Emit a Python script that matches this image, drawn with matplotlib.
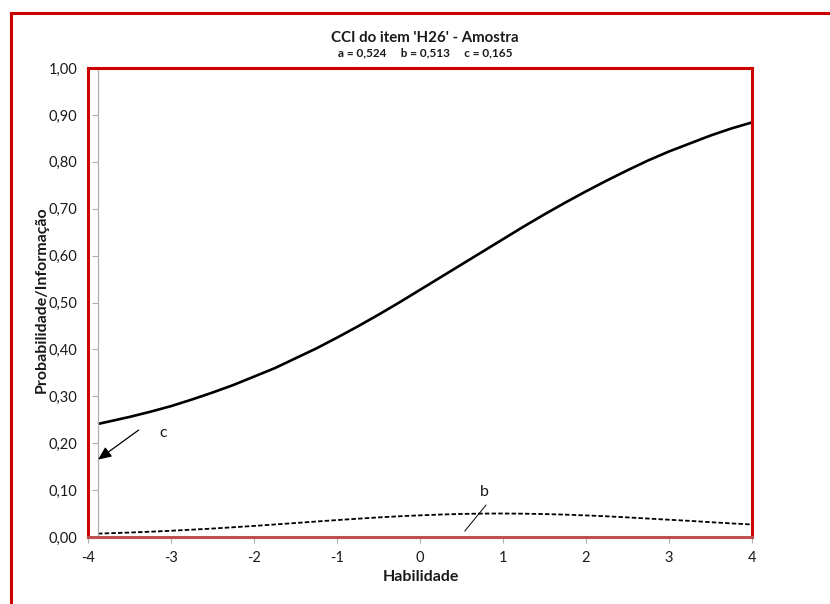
import matplotlib
matplotlib.use("Agg")
import matplotlib.pyplot as plt
from matplotlib.lines import Line2D

plt.rcParams['font.family'] = ['Lato', 'DejaVu Sans']

# Ability grid and curves (3PL item H26)
theta = [-3.88, -3.5, -3.25, -3.0, -2.75, -2.5, -2.25, -2.0, -1.75, -1.5, -1.25,
         -1.0, -0.75, -0.5, -0.25, 0.0, 0.25, 0.5, 0.75, 1.0, 1.25, 1.5, 1.75,
         2.0, 2.25, 2.5, 2.75, 3.0, 3.25, 3.5, 3.75, 4.0]
prob = [0.241, 0.256, 0.267, 0.279, 0.293, 0.308, 0.324, 0.342, 0.360, 0.381, 0.402,
        0.425, 0.449, 0.474, 0.500, 0.527, 0.554, 0.581, 0.608, 0.635, 0.662, 0.688, 0.713,
        0.737, 0.760, 0.782, 0.803, 0.822, 0.839, 0.856, 0.871, 0.884]
info = [0.0072, 0.0095, 0.0113, 0.0133, 0.0156, 0.0180, 0.0208, 0.0236, 0.0267, 0.0298, 0.0330,
        0.0361, 0.0390, 0.0418, 0.0442, 0.0462, 0.0479, 0.0492, 0.0499, 0.0501, 0.0497, 0.0489, 0.0477,
        0.0460, 0.0441, 0.0418, 0.0393, 0.0368, 0.0344, 0.0316, 0.0290, 0.0267]

x_ticks = [-4, -3, -2, -1, 0, 1, 2, 3, 4]
y_ticks = [0.0, 0.1, 0.2, 0.3, 0.4, 0.5, 0.6, 0.7, 0.8, 0.9, 1.0]
y_axis_at = -3.88
c_param = 0.165

fig = plt.figure(figsize=(8.30, 6.04), dpi=100)
ax = fig.add_axes([88 / 830, 1 - 537 / 604, (752 - 88) / 830, (537 - 68) / 604])

ax.plot(theta, prob, color='black', lw=1.9, solid_capstyle='butt')
ln, = ax.plot(theta, info, color='black', lw=1.3)
ln.set_dashes((2.5, 1.2))

ax.set_xlim(-4, 4)
ax.set_ylim(0, 1)
ax.set_xticks(x_ticks)
ax.set_xticklabels([str(v) for v in x_ticks])
ax.set_yticks(y_ticks)
ax.set_yticklabels([f"{v:.2f}".replace('.', ',') for v in y_ticks])

for s in ['top', 'right', 'bottom']:
    ax.spines[s].set_visible(False)
ax.spines['left'].set_position(('data', y_axis_at))
ax.spines['left'].set_color('#b0b0b0')
ax.spines['left'].set_linewidth(0.9)

ax.tick_params(axis='y', direction='out', length=4, width=0.8, color='#b0b0b0',
               pad=11, labelsize=10.5, labelcolor='#1a1a1a')
ax.tick_params(axis='x', direction='out', length=4, width=0.8, color='#b0b0b0',
               pad=6, labelsize=10.5, labelcolor='#1a1a1a')

# red plot-area border
red = '#cc0000'
ax.add_line(Line2D([0, 0], [0, 1], transform=ax.transAxes, color=red, lw=2.2,
                   clip_on=False, zorder=5))
ax.add_line(Line2D([0, 1], [1, 1], transform=ax.transAxes, color=red, lw=2.2,
                   clip_on=False, zorder=5, solid_capstyle='projecting'))
ax.add_line(Line2D([1, 1], [0, 1], transform=ax.transAxes, color=red, lw=2.2,
                   clip_on=False, zorder=5, solid_capstyle='projecting'))
ax.add_line(Line2D([0, 1], [0, 0], transform=ax.transAxes, color='#c0504d', lw=2.2,
                   clip_on=False, zorder=5, solid_capstyle='projecting'))

# outer frame
fig.add_artist(Line2D([11 / 830, 11 / 830], [0, 1 - 13 / 604], color=red, lw=2.2,
                      transform=fig.transFigure))
fig.add_artist(Line2D([11 / 830, 1], [1 - 13 / 604, 1 - 13 / 604], color=red, lw=2.2,
                      transform=fig.transFigure, solid_capstyle='projecting'))

# annotations
ax.annotate('', xy=(y_axis_at, c_param), xytext=(-3.39, 0.228),
            arrowprops=dict(arrowstyle='-|>,head_length=0.8,head_width=0.35',
                            color='black', lw=0.9, shrinkA=0, shrinkB=0))
ax.text(-3.10, 0.222, 'c', fontsize=11.5, ha='center', va='center', color='#1a1a1a')
ax.plot([0.54, 0.795], [0.0128, 0.068], color='black', lw=0.7)
ax.text(0.78, 0.096, 'b', fontsize=11.5, ha='center', va='center', color='#1a1a1a')

fig.text(425 / 830, 1 - 38 / 604, "CCI do item 'H26' - Amostra", ha='center', va='center',
         fontsize=10.8, fontweight='bold', color='#1a1a1a')
fig.text(425 / 830, 1 - 53 / 604, "a = 0,524     b = 0,513     c = 0,165", ha='center',
         va='center', fontsize=8.5, fontweight='bold', color='#1a1a1a')
fig.text(421 / 830, 1 - 577 / 604, 'Habilidade', ha='center', va='center',
         fontsize=11.5, fontweight='bold', color='#1a1a1a')
fig.text(42 / 830, 1 - 300 / 604, 'Probabilidade/Informação', ha='center', va='center',
         rotation=90, fontsize=11.5, fontweight='bold', color='#1a1a1a')

fig.savefig('out.png', dpi=100)
